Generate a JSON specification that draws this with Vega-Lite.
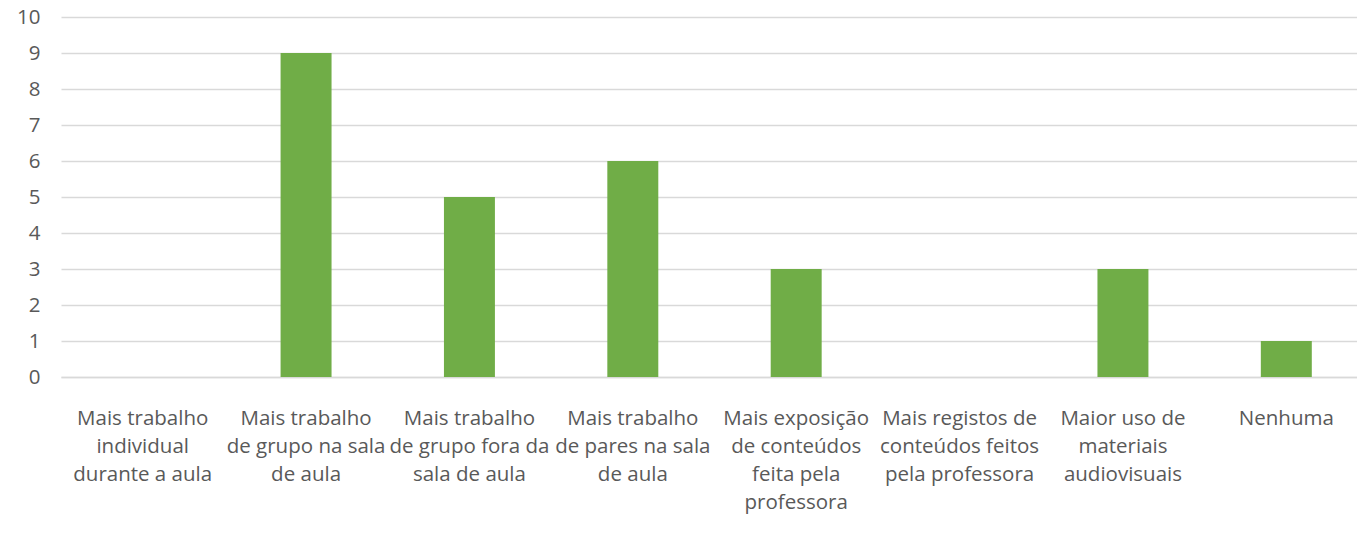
{
  "$schema": "https://vega.github.io/schema/vega-lite/v6.json",
  "autosize": "none",
  "width": 1307,
  "height": 360,
  "padding": {"left": 61, "top": 17, "right": 0, "bottom": 157},
  "background": "white",
  "config": {
    "view": {"stroke": null},
    "font": "Open Sans",
    "axis": {"labelFont": "Open Sans", "labelColor": "#595959", "labelFontSize": 20.5, "gridColor": "#D9D9D9", "gridWidth": 1.3, "domainColor": "#D9D9D9", "ticks": false, "title": null, "labelOverlap": false}
  },
  "data": {
    "values": [
      {"categoria": "Mais trabalho individual durante a aula", "valor": 0},
      {"categoria": "Mais trabalho de grupo na sala de aula", "valor": 9},
      {"categoria": "Mais trabalho de grupo fora da sala de aula", "valor": 5},
      {"categoria": "Mais trabalho de pares na sala de aula", "valor": 6},
      {"categoria": "Mais exposição de conteúdos feita pela professora", "valor": 3},
      {"categoria": "Mais registos de conteúdos feitos pela professora", "valor": 0},
      {"categoria": "Maior uso de materiais audiovisuais", "valor": 3},
      {"categoria": "Nenhuma", "valor": 1}
    ]
  },
  "mark": {"type": "bar", "color": "#70AD47"},
  "encoding": {
    "x": {
      "field": "categoria",
      "type": "nominal",
      "sort": null,
      "scale": {"paddingInner": 0.688, "paddingOuter": 0.344},
      "axis": {
        "labelAngle": 0,
        "labelPadding": 31,
        "labelLineHeight": 28,
        "labelLimit": 300,
        "labelBaseline": "top",
        "domainWidth": 1.3,
        "labelExpr": "({'Mais trabalho individual durante a aula': ['Mais trabalho', 'individual', 'durante a aula'], 'Mais trabalho de grupo na sala de aula': ['Mais trabalho', 'de grupo na sala', 'de aula'], 'Mais trabalho de grupo fora da sala de aula': ['Mais trabalho', 'de grupo fora da', 'sala de aula'], 'Mais trabalho de pares na sala de aula': ['Mais trabalho', 'de pares na sala', 'de aula'], 'Mais exposição de conteúdos feita pela professora': ['Mais exposição', 'de conteúdos', 'feita pela', 'professora'], 'Mais registos de conteúdos feitos pela professora': ['Mais registos de', 'conteúdos feitos', 'pela professora'], 'Maior uso de materiais audiovisuais': ['Maior uso de', 'materiais', 'audiovisuais'], 'Nenhuma': ['Nenhuma']})[datum.value]"
      }
    },
    "y": {
      "field": "valor",
      "type": "quantitative",
      "scale": {"domain": [0, 10], "nice": false},
      "axis": {"values": [0,1,2,3,4,5,6,7,8,9,10], "domain": false, "labelPadding": 21}
    }
  }
}
